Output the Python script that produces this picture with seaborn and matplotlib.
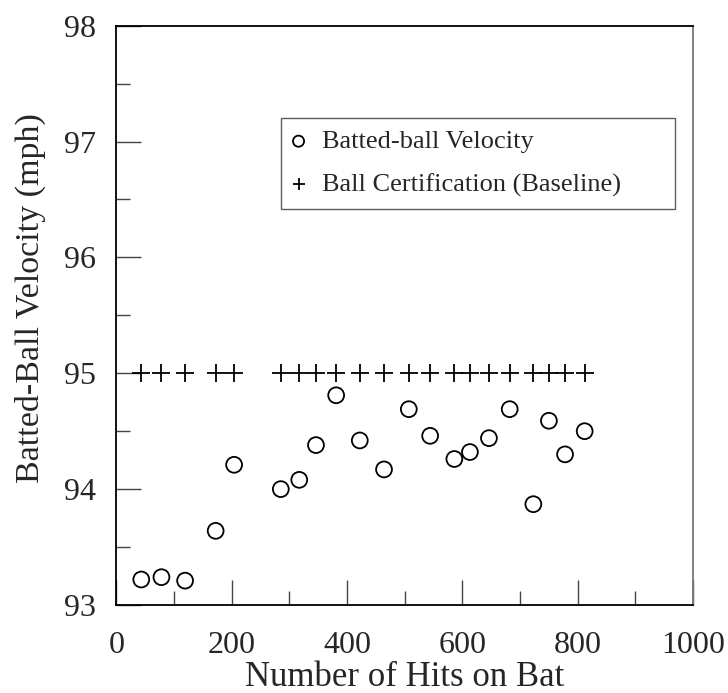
import numpy as np
import pandas as pd
import matplotlib
matplotlib.use("Agg")
import matplotlib.pyplot as plt
import seaborn as sns
from matplotlib.ticker import MultipleLocator

# Data
hits = [43, 78, 119, 172, 204, 285, 317, 346, 381, 422, 464, 507,
        544, 586, 613, 646, 682, 723, 750, 778, 812]
velocity = [93.22, 93.24, 93.21, 93.64, 94.21, 94.00, 94.08, 94.38, 94.81,
            94.42, 94.17, 94.69, 94.46, 94.26, 94.32, 94.44, 94.69, 93.87,
            94.59, 94.30, 94.50]
baseline = [95.0] * len(hits)

df = pd.DataFrame({"hits": hits, "velocity": velocity, "baseline": baseline})

sns.set_style("white")
plt.rcParams['font.family'] = ['Liberation Serif', 'DejaVu Serif']

fig = plt.figure(figsize=(7.28, 6.93), dpi=100)
ax = fig.add_axes([0.160, 0.127, 0.792, 0.836])

sns.scatterplot(data=df, x="hits", y="velocity", ax=ax, marker="o", s=130,
                facecolor="none", edgecolor="black", linewidth=1.3,
                label="Batted-ball Velocity")
sns.scatterplot(data=df, x="hits", y="baseline", ax=ax, marker="+", s=150,
                color="black", linewidth=1.3,
                label="Ball Certification (Baseline)")

ax.set_xlim(0, 1000)
ax.set_ylim(93, 98)
ax.xaxis.set_major_locator(MultipleLocator(200))
ax.xaxis.set_minor_locator(MultipleLocator(100))
ax.yaxis.set_major_locator(MultipleLocator(1))
ax.yaxis.set_minor_locator(MultipleLocator(0.5))
ax.tick_params(which="both", bottom=True, left=True, top=False, right=False)
ax.tick_params(which="major", direction="in", length=18, width=1,
               labelsize=23, pad=19, color="#444444")
ax.tick_params(which="minor", direction="in", length=10, width=1, color="#444444")
ax.tick_params(axis="y", which="major", pad=15)

for side in ["left", "bottom", "top"]:
    ax.spines[side].set_color("black")
    ax.spines[side].set_linewidth(1.3)
ax.spines["right"].set_color("#777777")
ax.spines["right"].set_linewidth(1.3)

ax.set_xlabel("Number of Hits on Bat", fontsize=25)
ax.xaxis.set_label_coords(0.5, -0.096)
ax.set_ylabel("Batted-Ball Velocity (mph)", fontsize=24.5)
ax.yaxis.set_label_coords(-0.122, 0.53)

leg = ax.legend(loc="upper left", bbox_to_anchor=(0.286, 0.841, 0.683, 0.0),
                mode="expand", borderaxespad=0, fontsize=19, markerscale=0.7,
                frameon=True, fancybox=False, edgecolor="#333333",
                handletextpad=0.7, borderpad=0.45, labelspacing=0.75,
                handlelength=0.4)
leg.get_frame().set_linewidth(1.0)

fig.savefig("out.png", dpi=100, facecolor="white")
